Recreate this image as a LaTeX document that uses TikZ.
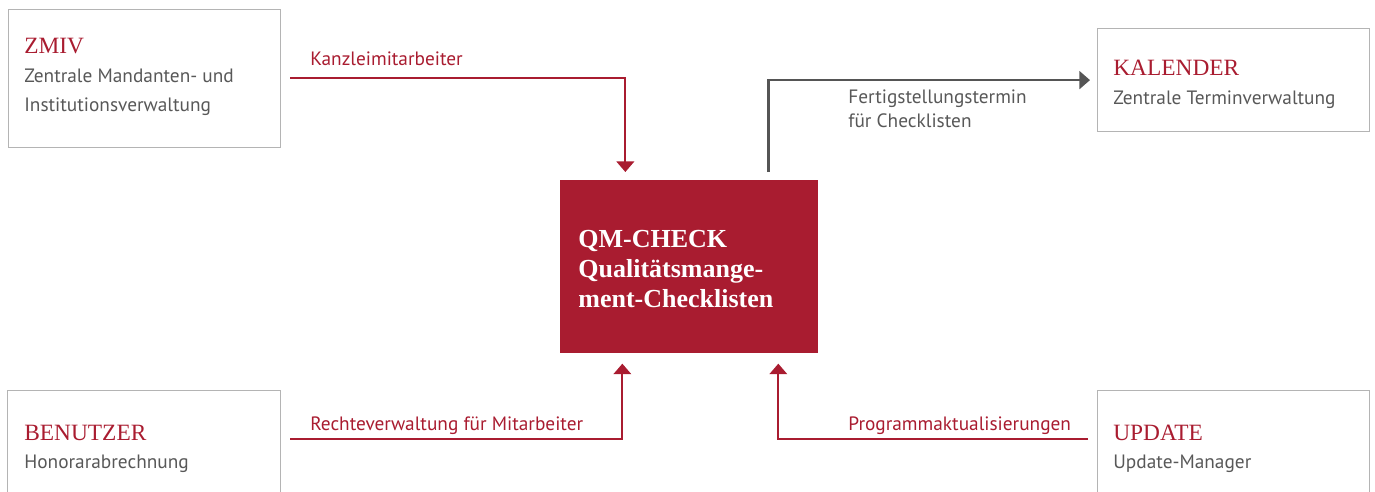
\documentclass[tikz,border=0pt]{standalone}
\usepackage{fontspec}
\setmainfont{PT Sans}
\newfontfamily\titlefont{Liberation Serif}
\usetikzlibrary{arrows.meta}

\definecolor{qmred}{RGB}{169,28,48}
\definecolor{textgray}{RGB}{88,88,88}
\definecolor{boxgray}{RGB}{180,180,180}
\definecolor{arrowgray}{RGB}{85,85,85}

\tikzset{
  sysbox/.style={draw=boxgray, line width=0.7pt, anchor=north west, inner sep=0pt},
  qmbox/.style={fill=qmred, anchor=north west, inner sep=0pt},
  systitle/.style={anchor=base west, inner sep=0pt, text=qmred, font=\titlefont\fontsize{13.3}{16}\selectfont},
  systext/.style={anchor=base west, inner sep=0pt, text=textgray, align=left, font=\fontsize{11}{16}\selectfont},
  qmtext/.style={anchor=base west, inner sep=0pt, text=white, align=left, font=\titlefont\bfseries\fontsize{14.8}{17}\selectfont},
  redlabel/.style={anchor=base west, inner sep=0pt, text=qmred, font=\fontsize{11}{14}\selectfont},
  graylabel/.style={anchor=base west, inner sep=0pt, text=textgray, align=left, font=\fontsize{11}{13.4}\selectfont},
  redarrow/.style={draw=qmred, line width=1.2pt, -{Triangle[width=10pt,length=6pt]}},
  grayarrow/.style={draw=arrowgray, line width=1.5pt, -{Triangle[width=10pt,length=6pt]}}
}

\begin{document}
\begin{tikzpicture}[x=0.02cm, y=-0.02cm]
  \useasboundingbox (0,0) rectangle (1375,491);
  % Boxes
  \node[sysbox, minimum width=5.44cm, minimum height=2.76cm] (zmiv) at (8,9) {};
  \node[sysbox, minimum width=5.44cm, minimum height=2.06cm] (kalender) at (1097,28) {};
  \node[sysbox, minimum width=5.46cm, minimum height=2.6cm] (benutzer) at (7,390) {};
  \node[sysbox, minimum width=5.44cm, minimum height=2.6cm] (update) at (1097,390) {};
  \node[qmbox, minimum width=5.16cm, minimum height=3.46cm] (qm) at (560,180) {};
  % Texts in boxes (base = last line)
  \node[systitle] (zmivT) at (24,53) {ZMIV};
  \node[systext] (zmivS) at (24,111) {Zentrale Mandanten- und\\Institutionsverwaltung};
  \node[systitle] (kalenderT) at (1113,75) {KALENDER};
  \node[systext] (kalenderS) at (1113,104) {Zentrale Terminverwaltung};
  \node[systitle] (benutzerT) at (24,440) {BENUTZER};
  \node[systext] (benutzerS) at (24,468) {Honorarabrechnung};
  \node[systitle] (updateT) at (1113,440) {UPDATE};
  \node[systext] (updateS) at (1113,468) {Update-Manager};
  \node[qmtext] (qmT) at (578,307) {QM-CHECK\\Qualitätsmange-\\ment-Checklisten};
  % Connectors
  \coordinate (kanzleiIn) at (290,78);
  \coordinate (rechteIn) at (290,439);
  \coordinate (updateIn) at (1088,439);
  \draw[redarrow, shorten >=0.16cm] (kanzleiIn) -| ([xshift=-1.28cm]qm.north);
  \draw[grayarrow, shorten <=0.16cm, shorten >=0.14cm] ([xshift=1.58cm]qm.north) |- (kalender.west);
  \draw[redarrow, shorten >=0.2cm] (rechteIn) -| ([xshift=-1.34cm]qm.south);
  \draw[redarrow, shorten >=0.2cm] (updateIn) -| ([xshift=1.78cm]qm.south);
  % Connector labels
  \node[redlabel] (kanzleiL) at (310,65) {Kanzleimitarbeiter};
  \node[graylabel] (terminL) at (848,127) {Fertigstellungstermin\\für Checklisten};
  \node[redlabel] (rechteL) at (310,430) {Rechteverwaltung für Mitarbeiter};
  \node[redlabel] (updateL) at (848,430) {Programmaktualisierungen};
\end{tikzpicture}
\end{document}
